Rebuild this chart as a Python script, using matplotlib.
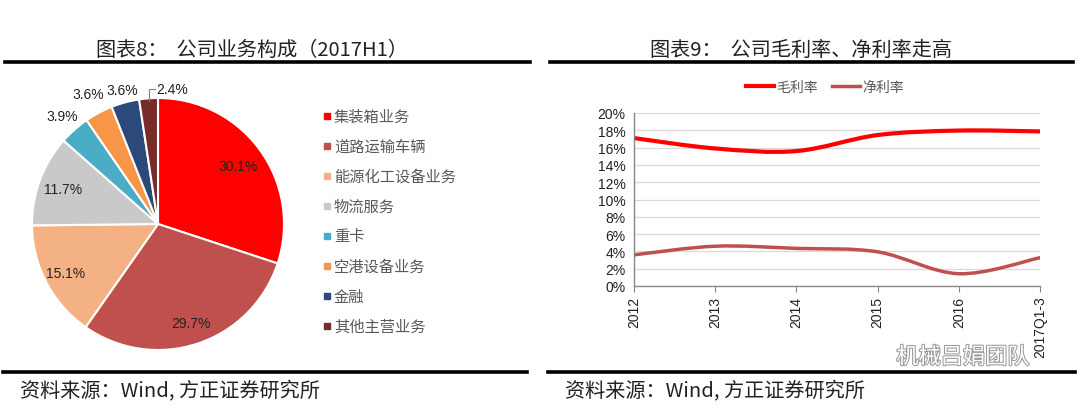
import numpy as np
import matplotlib
matplotlib.use("Agg")
import matplotlib.pyplot as plt
from matplotlib.lines import Line2D
from matplotlib.path import Path
from matplotlib.patches import PathPatch
import matplotlib.patheffects as pe

plt.rcParams['font.family'] = ['Noto Sans CJK SC', 'DejaVu Sans']

# ---- data ----
biz_names = ['集装箱业务', '道路运输车辆', '能源化工设备业务', '物流服务',
             '重卡', '空港设备业务', '金融', '其他主营业务']
biz_share = [30.1, 29.7, 15.1, 11.7, 3.9, 3.6, 3.6, 2.4]
biz_colors = ['#FF0000', '#C0504D', '#F4B183', '#C9C9C9',
              '#4BACC6', '#F79646', '#2B4A7A', '#772C2A']

years = ['2012', '2013', '2014', '2015', '2016', '2017Q1-3']
gross_margin = [17.1, 15.9, 15.6, 17.45, 17.97, 17.87]
net_margin = [3.6, 4.6, 4.35, 3.95, 1.42, 3.27]

W, H = 1080, 414
fig = plt.figure(figsize=(W / 100, H / 100), dpi=100)


def fx(px):
    return px / W


def fy(py):
    return 1 - py / H


# ---- headers / footers ----
fig.text(fx(252), fy(50), '图表8：  公司业务构成（2017H1）', ha='center', va='center',
         fontsize=14.5, color='#222222')
fig.text(fx(801), fy(50), '图表9：  公司毛利率、净利率走高', ha='center', va='center',
         fontsize=14.5, color='#222222')
for x0, x1, y in [(5, 530, 63), (550, 1073, 63), (3, 527, 373), (548, 1075, 373)]:
    fig.add_artist(Line2D([fx(x0), fx(x1)], [fy(y), fy(y)], color='black', lw=2.6,
                          transform=fig.transFigure))
for x in [20, 565]:
    fig.text(fx(x), fy(392), '资料来源：Wind, 方正证券研究所', ha='left', va='center',
             fontsize=14.5, color='#222222', style='italic')

# ---- pie ----
cx, cy, r = 158, 225, 126
ax1 = fig.add_axes([fx(cx - r), fy(cy + r), 2 * r / W, 2 * r / H])
wedges, _ = ax1.pie(biz_share, colors=biz_colors, startangle=90, counterclock=False,
                    wedgeprops=dict(edgecolor='white', linewidth=1.5))
ax1.set_xlim(-1, 1)
ax1.set_ylim(-1, 1)
ax1.axis('off')

label_r = [0.78, 0.83, 0.83, 0.80, 1.15, 1.17, 1.10, None]
for w, v, lr in zip(wedges, biz_share, label_r):
    ang = np.deg2rad((w.theta1 + w.theta2) / 2)
    txt = f'{v:.1f}%'
    if lr is None:
        # leader line for the smallest slice
        x0, y0 = np.cos(ang) * 0.98, np.sin(ang) * 0.98
        ax1.plot([x0, x0, x0 + 0.05], [y0, 1.07, 1.07], color='#808080', lw=0.8,
                 clip_on=False)
        ax1.text(x0 + 0.06, 1.07, txt, ha='left', va='center', fontsize=10,
                 family='Liberation Sans', color='#222222', clip_on=False)
    else:
        ax1.text(np.cos(ang) * lr, np.sin(ang) * lr, txt, ha='center', va='center',
                 fontsize=10, family='Liberation Sans', color='#222222', clip_on=False)

# legend
for i, (name, col) in enumerate(zip(biz_names, biz_colors)):
    yy = 117 + 30 * i
    fig.add_artist(Line2D([fx(327)], [fy(yy)], marker='s', markersize=4, color=col,
                          linestyle='none', transform=fig.transFigure))
    fig.text(fx(334), fy(yy), name, ha='left', va='center', fontsize=11, color='#595959')

# ---- line chart ----
ax2 = fig.add_axes([fx(634), fy(287), (1040 - 634) / W, (287 - 114) / H])


def smooth_path(xs, ys):
    # Excel-style smoothed line: cubic bezier with control points at 1/6 tangents
    pts = np.column_stack([xs, ys]).astype(float)
    n = len(pts)
    verts = [pts[0]]
    codes = [Path.MOVETO]
    for i in range(n - 1):
        p0 = pts[i - 1] if i > 0 else pts[i]
        p1, p2 = pts[i], pts[i + 1]
        p3 = pts[i + 2] if i + 2 < n else pts[i + 1]
        verts += [p1 + (p2 - p0) / 6, p2 - (p3 - p1) / 6, p2]
        codes += [Path.CURVE4] * 3
    return Path(verts, codes)


xpos = np.arange(len(years))
ax2.add_patch(PathPatch(smooth_path(xpos, np.array(gross_margin) / 100), facecolor='none',
                        edgecolor='#FF0000', lw=3.0, capstyle='round'))
ax2.add_patch(PathPatch(smooth_path(xpos, np.array(net_margin) / 100), facecolor='none',
                        edgecolor='#C0504D', lw=2.5, capstyle='round'))
ax2.set_xlim(0, len(years) - 1)
ax2.set_ylim(0, 0.20)
ax2.set_yticks(np.arange(0, 0.201, 0.02))
ax2.set_yticklabels([f'{int(round(v * 100))}%' for v in np.arange(0, 0.201, 0.02)],
                    family='Liberation Sans', fontsize=10, color='#222222')
ax2.set_xticks(xpos)
ax2.set_xticklabels(years, rotation=90, family='Liberation Sans', fontsize=10,
                    color='#222222')
ax2.grid(axis='y', color='#D9D9D9', lw=0.9)
ax2.set_axisbelow(True)
for s in ['top', 'right']:
    ax2.spines[s].set_visible(False)
for s in ['left', 'bottom']:
    ax2.spines[s].set_color('#888888')
    ax2.spines[s].set_linewidth(1.0)
ax2.tick_params(axis='y', length=0, pad=6)
ax2.tick_params(axis='x', length=4, color='#888888', pad=3)

handles = [Line2D([], [], color='#FF0000', lw=3.0), Line2D([], [], color='#C0504D', lw=2.5)]
fig.legend(handles, ['毛利率', '净利率'], loc='center', bbox_to_anchor=(fx(825), fy(88)),
           ncol=2, frameon=False, fontsize=10, handlelength=2.0, handletextpad=0.2,
           columnspacing=1.0, labelcolor='#595959')

# watermark
fig.text(fx(963), fy(358), '机械吕娟团队', ha='center', va='center', fontsize=16,
         color='white', path_effects=[pe.withStroke(linewidth=1.5, foreground='#9A9A9A')])

fig.savefig('out.png', dpi=100, facecolor='white')
